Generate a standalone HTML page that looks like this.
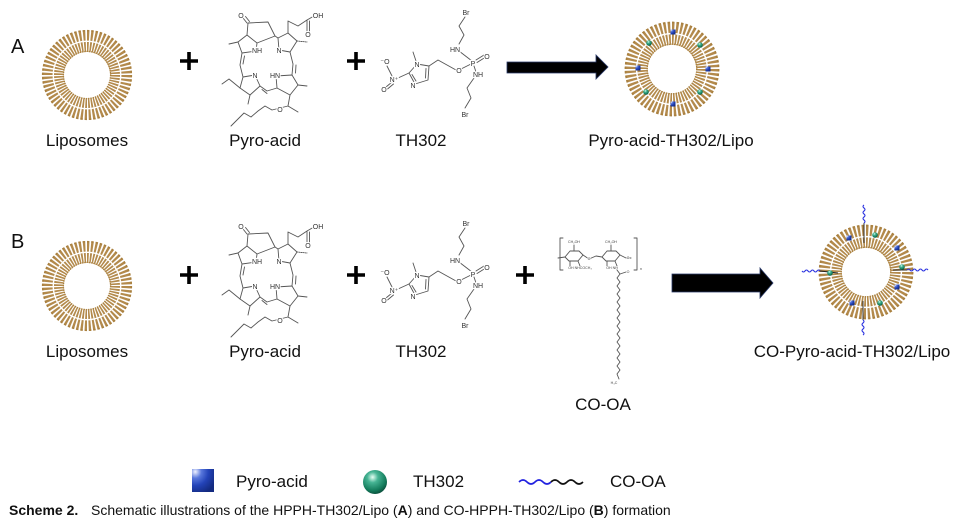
<!DOCTYPE html>
<html><head><meta charset="utf-8">
<style>
html,body{margin:0;padding:0;background:#fff;}
svg{display:block;}
.mol path{fill:none;stroke:#555;stroke-width:0.9;stroke-linejoin:round;stroke-linecap:round;}
.lbl{font-family:"Liberation Sans",sans-serif;font-size:7px;fill:#333;text-anchor:middle;stroke:#fff;stroke-width:2.2px;paint-order:stroke;}
.tiny{font-family:"Liberation Sans",sans-serif;font-size:3.6px;fill:#444;text-anchor:middle;stroke:#fff;stroke-width:1px;paint-order:stroke;}
.lab{font-family:"Liberation Sans",sans-serif;font-size:17px;fill:#111;text-anchor:middle;}
</style></head>
<body>
<svg width="959" height="524" viewBox="0 0 959 524" xmlns="http://www.w3.org/2000/svg">
<defs>
<radialGradient id="bq" cx="0.15" cy="0.12" r="1">
<stop offset="0" stop-color="#eef1ff"/><stop offset="0.28" stop-color="#5877dc"/><stop offset="0.6" stop-color="#2343b8"/><stop offset="1" stop-color="#132a80"/>
</radialGradient>
<radialGradient id="gs" cx="0.4" cy="0.3" r="0.75">
<stop offset="0" stop-color="#e6fff4"/><stop offset="0.3" stop-color="#46b494"/><stop offset="0.75" stop-color="#127a5a"/><stop offset="1" stop-color="#0a4636"/>
</radialGradient>
<g id="lip">
<circle r="39.7" fill="none" stroke="#b38a4c" stroke-width="10.6" pathLength="64" stroke-dasharray="0.58 0.42"/>
<circle r="28" fill="none" stroke="#b38a4c" stroke-width="10" pathLength="64" stroke-dasharray="0.6 0.4"/>
<circle r="44.3" fill="none" stroke="#a9803f" stroke-width="1.6" pathLength="64" stroke-dasharray="0.5 0.5"/>
<circle r="23.6" fill="none" stroke="#a9803f" stroke-width="1.3" pathLength="64" stroke-dasharray="0.5 0.5"/>
</g>
</defs>
<rect width="959" height="524" fill="#fff"/>

<!-- Row letters -->
<text x="11" y="53" font-family="Liberation Sans, sans-serif" font-size="20" fill="#111">A</text>
<text x="11" y="248" font-family="Liberation Sans, sans-serif" font-size="20" fill="#111">B</text>

<!-- ===== Row A ===== -->
<use href="#lip" transform="translate(87,75)"/>
<text class="lab" x="87" y="146">Liposomes</text>

<path d="M180,61H198M189,52V70" stroke="#000" stroke-width="3.6"/>

<g class="mol">
<path d="M243,18L247,23M245.5,16.5L249.5,21.5"/>
<path d="M248,23L268,22L275,36L257,43L247,35Z"/>
<path d="M247,35L238,42L242,53L256,51L257,43"/>
<path d="M238,42L229,44"/>
<path d="M242,53L240,65L243,77M244.5,56L243,64"/>
<path d="M243,77L255,75L260,86L250,95L240,88Z"/>
<path d="M240,88L229,79L222,84"/>
<path d="M250,95L248,104"/>
<path d="M260,86L267,91L277,88M262,89.5L267,93.5"/>
<path d="M277,88L276,76L292,75L298,85L290,95Z"/>
<path d="M298,85L307,86"/>
<path d="M292,75L293,64L290,52M295.5,73L296,65"/>
<path d="M279,50L278,38L288,33L297,41L290,52Z"/>
<path d="M275,36L278,38"/>
<path d="M288,33L288,21L298,26L307,20L314,16M307,20L307,31M309.5,21L309.5,31"/>
<path d="M297,41L307,42" stroke-dasharray="1 1"/>
<path d="M290,95L288,106L298,112M288,106L272,110L265,106L258,111L251,117L244,113L237,120L231,126"/>
</g>
<text class="lbl" x="241" y="18">O</text>
<text class="lbl" x="318" y="18">OH</text>
<text class="lbl" x="308" y="37">O</text>
<text class="lbl" x="257" y="53">NH</text>
<text class="lbl" x="279" y="53">N</text>
<text class="lbl" x="255" y="78">N</text>
<text class="lbl" x="275" y="78">HN</text>
<text class="lbl" x="280" y="112">O</text>
<text class="lab" x="265" y="146">Pyro-acid</text>

<path d="M347,61H365M356,52V70" stroke="#000" stroke-width="3.6"/>

<g class="mol">
<path d="M465,17L459,26L464,35L459,44"/>
<path d="M459,51L472,61"/>
<path d="M476,60L484,55M477,62.5L485,57.5"/>
<path d="M474,66L476,72"/>
<path d="M474,78L467,88L471,98L465,108"/>
<path d="M471,64L461,69"/>
<path d="M456,70L447,65L438,60L429,66"/>
<path d="M417,64L429,66L428,80L415,84L409,73Z"/>
<path d="M426,68.5L425.5,78M412,74.5L416,81"/>
<path d="M417,64L413,52"/>
<path d="M409,73L398,78M392,76L387,66M392,82L386,87M393.5,84L387.5,89"/>
</g>
<text class="lbl" x="466" y="15">Br</text>
<text class="lbl" x="455" y="52">HN</text>
<text class="lbl" x="473" y="66">P</text>
<text class="lbl" x="487" y="59">O</text>
<text class="lbl" x="478" y="77">NH</text>
<text class="lbl" x="465" y="117">Br</text>
<text class="lbl" x="459" y="73">O</text>
<text class="lbl" x="417" y="67">N</text>
<text class="lbl" x="413" y="88">N</text>
<text class="lbl" x="394" y="82">N⁺</text>
<text class="lbl" x="385" y="64">⁻O</text>
<text class="lbl" x="384" y="92">O</text>
<text class="lab" x="421" y="146">TH302</text>

<polygon points="507,62 596,62 596,55 608,67 596,79 596,73 507,73" fill="#000" stroke="#2a3a6a" stroke-width="0.8"/>

<use href="#lip" transform="translate(672,69) scale(1.05)"/>
<g fill="url(#bq)">
<rect x="670.5" y="29.5" width="5" height="5"/>
<rect x="635.5" y="65.5" width="5" height="5"/>
<rect x="705.5" y="66.5" width="5" height="5"/>
<rect x="670.5" y="101.5" width="5" height="5"/>
</g>
<g fill="url(#gs)">
<circle cx="649" cy="43" r="2.8"/>
<circle cx="700" cy="45" r="2.8"/>
<circle cx="646" cy="92" r="2.8"/>
<circle cx="700" cy="92" r="2.8"/>
</g>
<text class="lab" x="671" y="146">Pyro-acid-TH302/Lipo</text>

<!-- ===== Row B ===== -->
<use href="#lip" transform="translate(87,286)"/>
<text class="lab" x="87" y="357">Liposomes</text>

<path d="M180,275H198M189,266V284" stroke="#000" stroke-width="3.6"/>

<g transform="translate(0,211)">
<g class="mol">
<path d="M243,18L247,23M245.5,16.5L249.5,21.5"/>
<path d="M248,23L268,22L275,36L257,43L247,35Z"/>
<path d="M247,35L238,42L242,53L256,51L257,43"/>
<path d="M238,42L229,44"/>
<path d="M242,53L240,65L243,77M244.5,56L243,64"/>
<path d="M243,77L255,75L260,86L250,95L240,88Z"/>
<path d="M240,88L229,79L222,84"/>
<path d="M250,95L248,104"/>
<path d="M260,86L267,91L277,88M262,89.5L267,93.5"/>
<path d="M277,88L276,76L292,75L298,85L290,95Z"/>
<path d="M298,85L307,86"/>
<path d="M292,75L293,64L290,52M295.5,73L296,65"/>
<path d="M279,50L278,38L288,33L297,41L290,52Z"/>
<path d="M275,36L278,38"/>
<path d="M288,33L288,21L298,26L307,20L314,16M307,20L307,31M309.5,21L309.5,31"/>
<path d="M297,41L307,42" stroke-dasharray="1 1"/>
<path d="M290,95L288,106L298,112M288,106L272,110L265,106L258,111L251,117L244,113L237,120L231,126"/>
</g>
<text class="lbl" x="241" y="18">O</text>
<text class="lbl" x="318" y="18">OH</text>
<text class="lbl" x="308" y="37">O</text>
<text class="lbl" x="257" y="53">NH</text>
<text class="lbl" x="279" y="53">N</text>
<text class="lbl" x="255" y="78">N</text>
<text class="lbl" x="275" y="78">HN</text>
<text class="lbl" x="280" y="112">O</text>
</g>
<text class="lab" x="265" y="357">Pyro-acid</text>

<path d="M347,275H365M356,266V284" stroke="#000" stroke-width="3.6"/>

<g transform="translate(0,211)">
<g class="mol">
<path d="M465,17L459,26L464,35L459,44"/>
<path d="M459,51L472,61"/>
<path d="M476,60L484,55M477,62.5L485,57.5"/>
<path d="M474,66L476,72"/>
<path d="M474,78L467,88L471,98L465,108"/>
<path d="M471,64L461,69"/>
<path d="M456,70L447,65L438,60L429,66"/>
<path d="M417,64L429,66L428,80L415,84L409,73Z"/>
<path d="M426,68.5L425.5,78M412,74.5L416,81"/>
<path d="M417,64L413,52"/>
<path d="M409,73L398,78M392,76L387,66M392,82L386,87M393.5,84L387.5,89"/>
</g>
<text class="lbl" x="466" y="15">Br</text>
<text class="lbl" x="455" y="52">HN</text>
<text class="lbl" x="473" y="66">P</text>
<text class="lbl" x="487" y="59">O</text>
<text class="lbl" x="478" y="77">NH</text>
<text class="lbl" x="465" y="117">Br</text>
<text class="lbl" x="459" y="73">O</text>
<text class="lbl" x="417" y="67">N</text>
<text class="lbl" x="413" y="88">N</text>
<text class="lbl" x="394" y="82">N⁺</text>
<text class="lbl" x="385" y="64">⁻O</text>
<text class="lbl" x="384" y="92">O</text>
</g>
<text class="lab" x="421" y="357">TH302</text>

<path d="M516,275H534M525,266V284" stroke="#000" stroke-width="3.6"/>

<!-- CO-OA structure -->
<g class="mol">
<path d="M563,238H560V270H563M634,238H637V270H634" stroke-width="0.7"/>
<path d="M565,257L570,251L579,251L583,255L578,261L569,261Z"/>
<path d="M602,257L607,251L616,251L620,255L615,261L606,261Z"/>
<path d="M574,251L574,245M570,261L570,266M578,261L580,266"/>
<path d="M611,251L611,245M607,261L607,266M615,261L617,266"/>
<path d="M583,255L589,259L596,256L602,257M620,255L626,258L631,258M558,258L565,257"/>
<path d="M617,266L617,270L620,274L617,278L620,282L617,286L620,290L617,294L620,298L617,302L620,306L617,310L620,314L617,318L620,322L617,326L620,330L617,334L620,338L617,342L620,346L617,350L620,354L617,358L620,362L617,366L620,370L617,374L619,379"/>
<path d="M620,274L626,272"/>
</g>
<text class="tiny" x="574" y="243">CH₂OH</text>
<text class="tiny" x="611" y="243">CH₂OH</text>
<text class="tiny" x="580" y="269">OH NHCOCH₃</text>
<text class="tiny" x="612" y="269">OH NH</text>
<text class="tiny" x="589" y="260">O</text>
<text class="tiny" x="628" y="259">O</text>
<text class="tiny" x="628" y="273">O</text>
<text class="tiny" x="641" y="270">n</text>
<text class="tiny" x="614" y="384">H₃C</text>
<text class="lab" x="603" y="410">CO-OA</text>

<polygon points="672,274 760,274 760,268 773,283 760,298 760,292 672,292" fill="#000" stroke="#2a3a6a" stroke-width="0.8"/>

<!-- CO product liposome -->
<use href="#lip" transform="translate(866,272) scale(1.05)"/>
<g stroke="#222" stroke-width="0.9" fill="none">
<path d="M864,223L864,243"/>
<path d="M863,301L863,320"/>
<path d="M820,271L838,273"/>
<path d="M893,270L907,270"/>
</g>
<g stroke="#2b33e0" stroke-width="1.1" fill="none">
<path d="M864,223q2,-1.5 0,-3t0,-3t0,-3t0,-3t0,-3t0,-3"/>
<path d="M863,320q2,1.5 0,3t0,3t0,3t0,3t0,3"/>
<path d="M820,271q-1.5,-2 -3,0t-3,0t-3,0t-3,0t-3,0t-3,0"/>
<path d="M907,270q1.5,-2 3,0t3,0t3,0t3,0t3,0t3,0t3,0"/>
</g>
<g fill="url(#bq)">
<rect x="846.5" y="235.5" width="5" height="5"/>
<rect x="894.5" y="245.5" width="5" height="5"/>
<rect x="894.5" y="284.5" width="5" height="5"/>
<rect x="849.5" y="300.5" width="5" height="5"/>
</g>
<g fill="url(#gs)">
<circle cx="875" cy="235" r="2.8"/>
<circle cx="902" cy="267" r="2.8"/>
<circle cx="880" cy="303" r="2.8"/>
<circle cx="830" cy="273" r="2.8"/>
</g>
<text class="lab" x="852" y="357">CO-Pyro-acid-TH302/Lipo</text>

<!-- Legend -->
<rect x="192" y="469" width="22" height="23" fill="url(#bq)"/>
<text x="236" y="487" font-family="Liberation Sans, sans-serif" font-size="17" fill="#111">Pyro-acid</text>
<circle cx="375" cy="482" r="12" fill="url(#gs)"/>
<text x="413" y="487" font-family="Liberation Sans, sans-serif" font-size="17" fill="#111">TH302</text>
<path d="M519,482q4,-4 8,0t8,0t8,0t8,0" fill="none" stroke="#2222e0" stroke-width="1.6"/>
<path d="M551,482q4,-4 8,0t8,0t8,0t8,0" fill="none" stroke="#111" stroke-width="1.6"/>
<text x="610" y="487" font-family="Liberation Sans, sans-serif" font-size="17" fill="#111">CO-OA</text>

<!-- Caption -->
<text x="9" y="515" font-family="Liberation Sans, sans-serif" font-size="14" fill="#111"><tspan font-weight="bold">Scheme 2.</tspan><tspan x="91">Schematic illustrations of the HPPH-TH302/Lipo (</tspan><tspan font-weight="bold">A</tspan><tspan>) and CO-HPPH-TH302/Lipo (</tspan><tspan font-weight="bold">B</tspan><tspan>) formation</tspan></text>
</svg>
</body></html>
